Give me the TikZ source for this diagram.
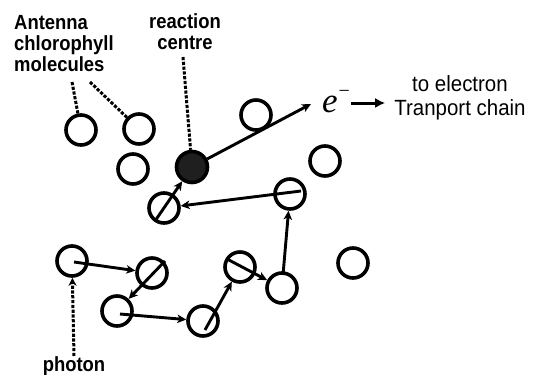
\documentclass[tikz,border=0pt]{standalone}
\usepackage{fontspec}
\setmainfont{Liberation Sans}
\newfontfamily\lblfont[FakeStretch=0.9]{Liberation Sans Bold}
\newfontfamily\narrowfont[FakeStretch=0.93]{Liberation Sans}
\newfontfamily\tms{Liberation Serif}
\usetikzlibrary{arrows.meta,calc}
\begin{document}
\begin{tikzpicture}[x=1pt,y=-1pt,
  mol/.style={circle,draw,line width=3.6pt,minimum size=30pt,inner sep=0pt},
  rcs/.style={mol,fill=black!88,minimum size=31pt},
  arr/.style={line width=2.9pt,-{Stealth[length=9pt,width=8.5pt,inset=2.5pt]}},
  earr/.style={line width=3pt,-{Latex[length=10pt,width=10pt]}},
  dotl/.style={line width=3pt,dash pattern=on 3.2pt off 1.6pt},
  lbl/.style={inner sep=0pt,font=\lblfont\fontsize{20.5}{21}\selectfont},
]
\useasboundingbox (0,0) rectangle (539,375);

% molecules
\node[mol] (a1) at (81,130) {};
\node[mol] (a2) at (139,129) {};
\node[mol] (a3) at (133,169) {};
\node[rcs] (rc) at (192,167) {};
\node[mol] (c5) at (256,115) {};
\node[mol] (c6) at (325,161) {};
\node[mol] (c7) at (290,194) {};
\node[mol] (c8) at (164,208) {};
\node[mol] (c9) at (353,263) {};
\node[mol] (p) at (72,261) {};
\node[mol] (c11) at (152,273) {};
\node[mol] (c12) at (117,311) {};
\node[mol] (c13) at (203,321) {};
\node[mol] (c14) at (240,267) {};
\node[mol] (c15) at (282,288) {};

% labels
\node[lbl,align=left,anchor=north west] (ant) at (14,15) {Antenna\\chlorophyll\\molecules};
\node[lbl,align=center,anchor=north] (rct) at (185,13) {reaction\\centre};
\node[lbl,anchor=north] (ph) at (74,356) {photon};
\node[inner sep=0pt,align=center,anchor=north,font=\narrowfont\fontsize{22}{24}\selectfont] (tc) at (460,75) {to\ electron\\Tranport\ chain};
\node[inner sep=0pt,anchor=base west,font=\tms\itshape\fontsize{35}{35}\selectfont] (em) at (322,112) {e\kern1pt\raisebox{15pt}{\upshape\fontsize{20}{20}\selectfont −}};
\coordinate (etip) at (311,104);

% energy transfer path
\draw[arr] ($(p.center)+(2,1)$) -- (c11);
\draw[arr] ($(c11.center)+(13,-12)$) -- (c12);
\draw[arr] ($(c12.center)+(3,3)$) -- (c13);
\draw[arr] ($(c13.center)+(2,9)$) -- (c14);
\draw[arr] ($(c14.center)+(-13,-8)$) -- (c15);
\draw[arr] ($(c15.center)+(1,-13)$) -- (c7);
\draw[arr] ($(c7.center)+(11,-3)$) -- (c8);
\draw[arr] ($(c8.center)+(-9,13)$) -- (rc);
\draw[arr] (rc) -- (etip);

% electron out
\draw[earr,shorten >=9pt] ($(em.base east)+(1,-9)$) coordinate (ea) -- (ea -| tc.west);

% dotted pointers
\coordinate (d1) at (72,82);
\coordinate (d2) at (90,82);
\coordinate (d3) at (183,57);
\draw[dotl] (d1) -- (a1);
\draw[dotl] (d2) -- (a2);
\draw[dotl] (d3) -- (rc);
\draw[dotl,-{Stealth[length=8pt,width=8pt,inset=2.5pt]}] (ph.north) -- (p);
\end{tikzpicture}
\end{document}
